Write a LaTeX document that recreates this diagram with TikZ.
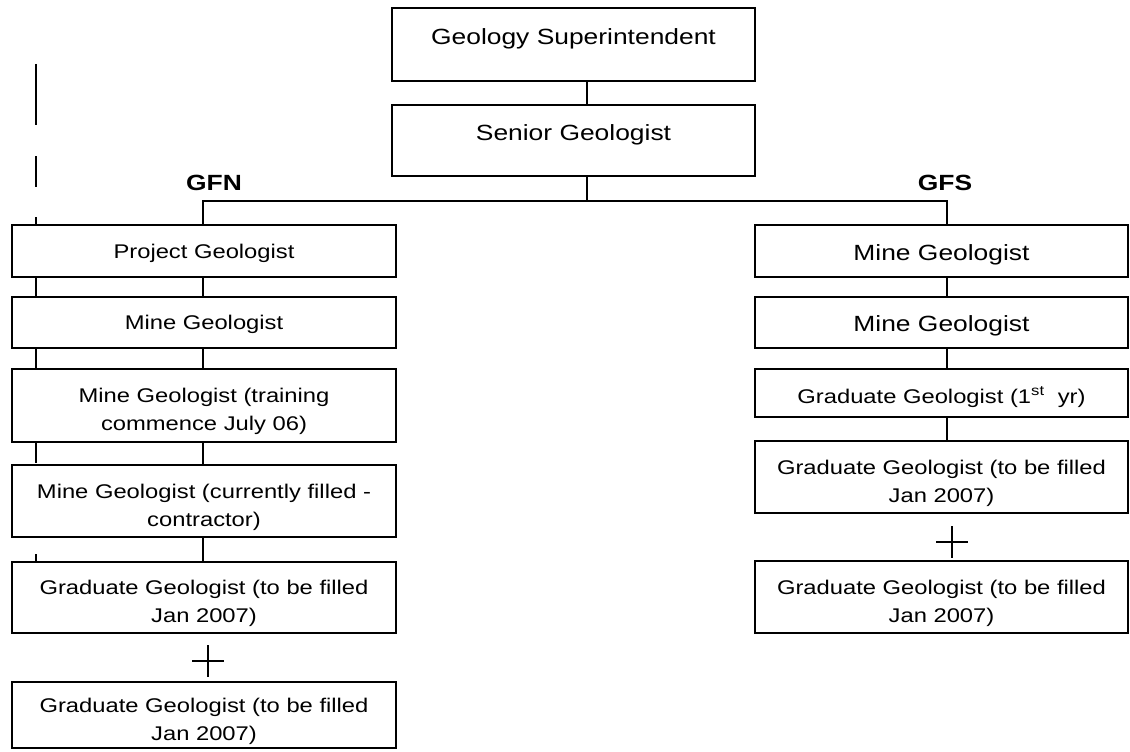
\documentclass[tikz,border=0pt]{standalone}
\usepackage{fontspec}
\setmainfont{Liberation Sans}[FakeStretch=1.2]
\usetikzlibrary{positioning}
\tikzset{
  box/.style={draw, line width=2pt, fill=white, align=center, inner sep=0pt}, % every position box
  bigbox/.style={box, font=\fontsize{22}{27}\selectfont}, % larger lettering
  smallbox/.style={box, font=\fontsize{19.8}{28}\selectfont}, % smaller lettering
  oneline/.style={text height=16pt, text depth=2pt}, % one line, sits a bit low
  twoline/.style={text height=50pt, text depth=0pt}, % two lines
  leftcol/.style={minimum width=384pt}, % GFN column
  rightcol/.style={minimum width=373pt}, % GFS column
  site/.style={font=\bfseries\fontsize{22}{27}\selectfont},
}

\begin{document}
\begin{tikzpicture}[x=1pt, y=-1pt, line width=2pt]
    \useasboundingbox (0,0) rectangle (1130,752);

    % broken guide line on the far left
    \draw[dash pattern=on 61pt off 31pt on 31pt off 30pt on 246pt off 91pt on 8pt off 200pt]
      (36,64) -- (36,562);

    \node[bigbox, minimum width=363pt, minimum height=73pt, text height=16pt, text depth=15pt] (super) at (573.5,44.5) {Geology Superintendent};
    \node[bigbox, minimum width=363pt, minimum height=71pt, text height=15pt, text depth=15pt] (senior) at (573.5,140.5) {Senior Geologist};

    \node[site] (gfn) at (214,182.5) {GFN};
    \node[site] (gfs) at (945,182.5) {GFS};

    % GFN
    \node[smallbox, leftcol, oneline, minimum height=52pt] (proj) at (204,251) {Project Geologist};
    \node[smallbox, leftcol, oneline, minimum height=51pt] (lmine) at (204,322.5) {Mine Geologist};
    \node[smallbox, leftcol, twoline, minimum height=73pt] (ltrain) at (204,405.5) {Mine Geologist (training\\commence July 06)};
    \node[smallbox, leftcol, twoline, minimum height=72pt] (lcontr) at (204,501) {Mine Geologist (currently filled -\\contractor)};
    \node[smallbox, leftcol, twoline, minimum height=71pt] (lgrada) at (204,597.5) {Graduate Geologist (to be filled\\Jan 2007)};
    \node[smallbox, leftcol, twoline, minimum height=66pt] (lgradb) at (204,715) {Graduate Geologist (to be filled\\Jan 2007)};

    % GFS
    \node[bigbox, rightcol, text height=18pt, text depth=0pt, minimum height=52pt] (rminea) at (941.5,251) {Mine Geologist};
    \node[bigbox, rightcol, text height=18pt, text depth=0pt, minimum height=51pt] (rmineb) at (941.5,322.5) {Mine Geologist};
    \node[smallbox, rightcol, text height=20pt, text depth=0pt, minimum height=48pt] (rfirst) at (941.5,393) {Graduate Geologist (1\textsuperscript{st}~ yr)};
    \node[smallbox, rightcol, twoline, minimum height=72pt] (rgrada) at (941.5,477) {Graduate Geologist (to be filled\\Jan 2007)};
    \node[smallbox, rightcol, twoline, minimum height=72pt] (rgradb) at (941.5,597) {Graduate Geologist (to be filled\\Jan 2007)};

    \coordinate (mid) at (587,201);
    \coordinate (lx) at (203,0);
    \coordinate (rx) at (947,0);

    \draw (super.south -| mid) -- (senior.north -| mid);
    \draw (senior.south -| mid) -- (mid);
    \draw[line width=1.5pt] (proj.north -| lx) |- (mid) -| (rminea.north -| rx);

    \foreach \a/\b in {proj/lmine, lmine/ltrain, ltrain/lcontr, lcontr/lgrada}
      \draw (\a.south -| lx) -- (\b.north -| lx);
    \foreach \a/\b in {rminea/rmineb, rmineb/rfirst, rfirst/rgrada}
      \draw (\a.south -| rx) -- (\b.north -| rx);

    % the two plus signs
    \coordinate (lplus) at (208,661);
    \coordinate (rplus) at (952,542);
    \draw[line width=1.5pt] (lplus) +(-16,0) -- +(16,0) (lplus) +(0,-16) -- +(0,16);
    \draw[line width=1.5pt] (rplus) +(-16,0) -- +(16,0) (rplus) +(0,-16) -- +(0,16);
  \end{tikzpicture}
\end{document}
